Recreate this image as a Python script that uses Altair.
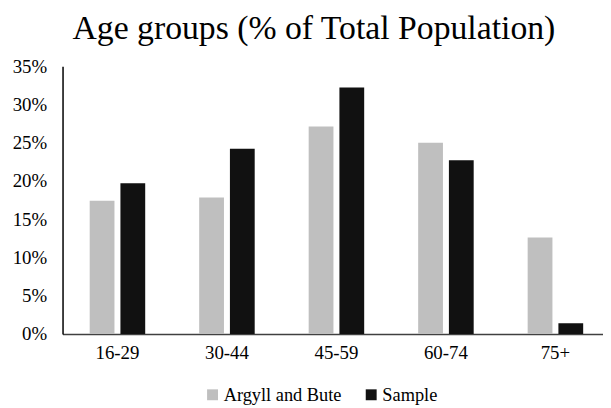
import altair as alt
import pandas as pd

age_groups = ["16-29", "30-44", "45-59", "60-74", "75+"]
argyll_bute = [17.4, 17.85, 27.1, 25.0, 12.6]
sample = [19.7, 24.2, 32.2, 22.7, 1.4]
series_names = ["Argyll and Bute", "Sample"]
y_ticks = [0, 5, 10, 15, 20, 25, 30, 35]

rows = []
for g, a, s in zip(age_groups, argyll_bute, sample):
    rows.append({"group": g, "series": series_names[0], "value": a / 100})
    rows.append({"group": g, "series": series_names[1], "value": s / 100})
df = pd.DataFrame(rows)

FONT = "Liberation Serif"

chart = alt.Chart(df).mark_bar().encode(
    x=alt.X("group:N", sort=age_groups, title=None,
            scale=alt.Scale(paddingInner=0.493, paddingOuter=0.2145, align=0.578),
            axis=alt.Axis(labelAngle=0, ticks=False, labelPadding=10,
                          domainColor="#404040", domainWidth=1.5)),
    xOffset=alt.XOffset("series:N", sort=series_names,
                        scale=alt.Scale(paddingInner=0.194, paddingOuter=0)),
    y=alt.Y("value:Q", title=None,
            scale=alt.Scale(domain=[0, 0.35], nice=False),
            axis=alt.Axis(values=[v / 100 for v in y_ticks], format=".0%",
                          ticks=False, grid=False, labelPadding=16,
                          domainColor="#000", domainWidth=1.5)),
    color=alt.Color("series:N", sort=series_names,
                    scale=alt.Scale(domain=series_names, range=["#bfbfbf", "#111111"]),
                    legend=alt.Legend(title=None, orient="none", direction="horizontal",
                                      legendX=142, legendY=322,
                                      symbolType="square", symbolSize=121,
                                      symbolStrokeWidth=0, labelOffset=2,
                                      columnPadding=20)),
).properties(
    width=545,
    height=270,
    title=alt.TitleParams("Age groups (% of Total Population)", font=FONT,
                          fontSize=34, fontWeight="normal", color="#000",
                          anchor="middle", dx=-19, offset=11),
    autosize=alt.AutoSizeParams(type="none"),
    padding={"left": 55, "top": 57, "right": 0, "bottom": 70},
).configure(font=FONT).configure_axis(
    labelFont=FONT, labelFontSize=19, labelColor="#000"
).configure_legend(
    labelFont=FONT, labelFontSize=18.5, labelColor="#000"
).configure_view(stroke=None)

chart.save("out.html", embed_options={"renderer": "svg", "actions": False})
